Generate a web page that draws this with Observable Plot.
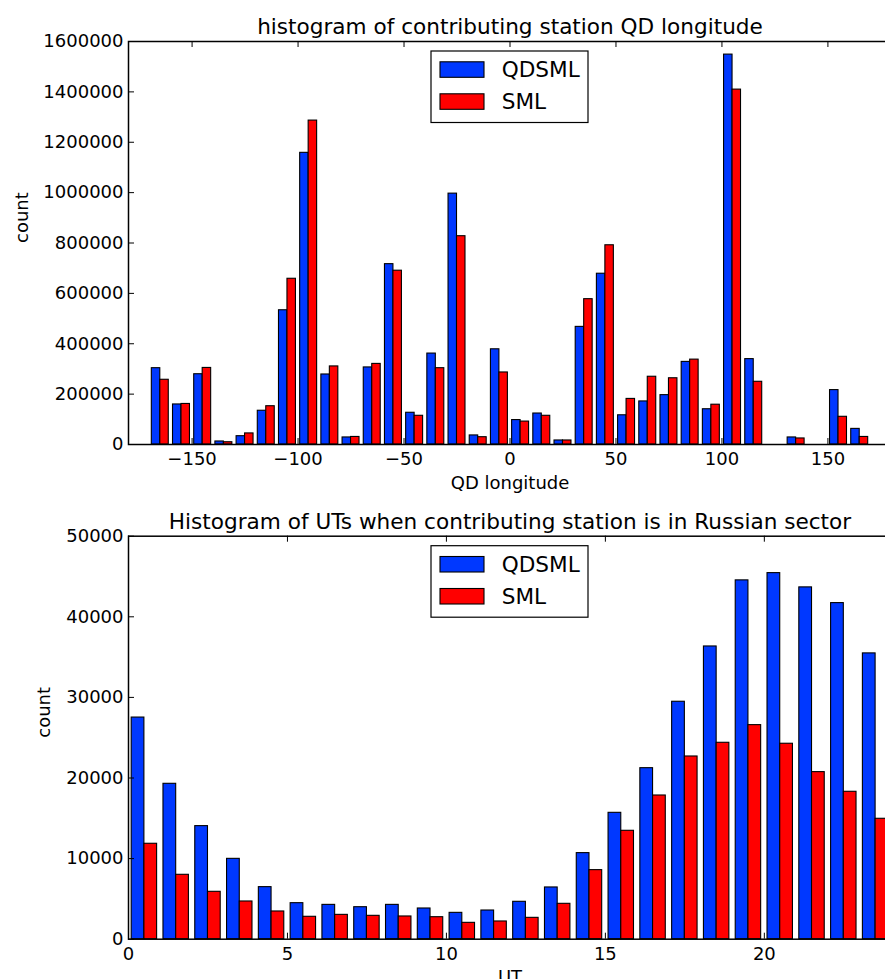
<!DOCTYPE html>
<html>
<head>
<meta charset="utf-8">
<script src="https://cdn.jsdelivr.net/npm/d3@7"></script>
<script src="https://cdn.jsdelivr.net/npm/@observablehq/plot@0.6"></script>
<style>
  html, body { margin: 0; padding: 0; background: #fff; overflow: hidden; }
  #wrap { width: 885px; height: 979px; overflow: hidden; position: relative; }
  #wrap svg { display: block; max-width: none !important; }
</style>
</head>
<body>
<div id="wrap"></div>
<script>
// ---------- data ----------
const lonBins = [-170,-160,-150,-140,-130,-120,-110,-100,-90,-80,-70,-60,-50,-40,-30,-20,-10,0,10,20,30,40,50,60,70,80,90,100,110,120,130,140,150,160];
const lonQDSML = [303000,159000,279000,12000,33000,134000,533000,1158000,278000,28000,306000,716000,126000,361000,996000,36000,378000,97000,123000,16000,467000,678000,116000,171000,196000,328000,140000,1548000,339000,0,28000,0,216000,62000];
const lonSML   = [257000,161000,304000,9000,44000,152000,658000,1286000,310000,30000,320000,690000,114000,303000,827000,29000,286000,91000,114000,16000,577000,791000,181000,269000,263000,337000,158000,1409000,249000,0,24000,0,110000,30000];
const lonTicks = [-150,-100,-50,0,50,100,150];
const lonCountTicks = [0,200000,400000,600000,800000,1000000,1200000,1400000,1600000];

const utBins = [0,1,2,3,4,5,6,7,8,9,10,11,12,13,14,15,16,17,18,19,20,21,22,23];
const utQDSML = [27500,19280,14030,9970,6460,4470,4260,3970,4260,3810,3270,3560,4640,6420,10680,15680,21220,29460,36320,44520,45420,43650,41700,35460];
const utSML   = [11840,7990,5880,4680,3440,2780,3020,2900,2820,2730,2030,2200,2650,4390,8570,13450,17830,22670,24370,26560,24250,20730,18290,14940];
const utTicks = [0,5,10,15,20];
const utCountTicks = [0,10000,20000,30000,40000,50000];

const seriesNames = ["QDSML","SML"];
const seriesColors = ["#0038ff","#ff0000"];

// ---------- drawing ----------
const W = 891, LEFT = 128;
const minus = d => d < 0 ? "\u2212" + Math.abs(d) : String(d);

function panel({bins, a, b, bw, xDomain, xTicks, yDomain, yTicks, title, xLabel, height, mt, mb, yLabelDx}) {
  const rows = bins.map((bin, i) => ({bin, a: a[i], b: b[i]}));
  const H = height - mt - mb;
  const FW = W - LEFT;
  const plot = Plot.plot({
    width: W, height,
    marginLeft: LEFT, marginRight: 0, marginTop: mt, marginBottom: mb,
    style: {fontFamily: "DejaVu Sans", fontSize: "18px", background: "white", color: "black", overflow: "visible", maxWidth: "none"},
    x: {domain: xDomain, label: null},
    y: {domain: yDomain, label: null},
    marks: [
      Plot.rect(rows, {x1: d => d.bin + 0.1*bw, x2: d => d.bin + 0.5*bw, y1: 0, y2: "a", fill: seriesColors[0], stroke: "black", strokeWidth: 1.1}),
      Plot.rect(rows, {x1: d => d.bin + 0.5*bw, x2: d => d.bin + 0.9*bw, y1: 0, y2: "b", fill: seriesColors[1], stroke: "black", strokeWidth: 1.1}),
      Plot.axisX(xTicks, {anchor: "bottom", tickSize: 0, tickPadding: 8, tickFormat: minus, fontSize: 18, label: null}),
      Plot.axisY(yTicks, {anchor: "left", tickSize: 0, tickPadding: 5, tickFormat: d3.format("d"), fontSize: 18, label: null}),
      Plot.tickX(xTicks, {x: d => d, insetTop: H - 6, stroke: "black", strokeWidth: 1}),
      Plot.tickX(xTicks, {x: d => d, insetBottom: H - 6, stroke: "black", strokeWidth: 1}),
      Plot.tickY(yTicks, {y: d => d, insetRight: FW - 6, stroke: "black", strokeWidth: 1}),
      Plot.tickY(yTicks, {y: d => d, insetLeft: FW - 6, stroke: "black", strokeWidth: 1}),
      Plot.frame({stroke: "black", strokeWidth: 1.5}),
      Plot.text([title], {text: d => d, frameAnchor: "top", dy: -7.5, lineAnchor: "bottom", fontSize: 21.6}),
      Plot.text([xLabel], {text: d => d, frameAnchor: "bottom", dy: 44, lineAnchor: "bottom", fontSize: 18}),
      Plot.text(["count"], {text: d => d, frameAnchor: "left", dx: yLabelDx, rotate: -90, lineAnchor: "middle", fontSize: 18})
    ]
  });
  // legend
  const svg = d3.select(plot);
  const g = svg.append("g").attr("transform", `translate(431,${mt + 10})`);
  g.append("rect").attr("x", 0).attr("y", 0).attr("width", 157).attr("height", 71.5)
    .attr("fill", "white").attr("stroke", "black").attr("stroke-width", 1.2);
  seriesNames.forEach((name, i) => {
    const base = 26.3 + i * 32;
    g.append("rect").attr("x", 9).attr("y", base - 15.5).attr("width", 44).attr("height", 15.5)
      .attr("fill", seriesColors[i]).attr("stroke", "black").attr("stroke-width", 1.1);
    g.append("text").attr("x", 70.7).attr("y", base).attr("font-size", 21.6)
      .attr("text-anchor", "start").attr("font-family", "DejaVu Sans").attr("fill", "black").text(name);
  });
  return plot;
}

const wrap = document.getElementById("wrap");
wrap.appendChild(panel({
  bins: lonBins, a: lonQDSML, b: lonSML, bw: 10,
  xDomain: [-180, 180], xTicks: lonTicks, yDomain: [0, 1600000], yTicks: lonCountTicks,
  title: "histogram of contributing station QD longitude", xLabel: "QD longitude",
  height: 490, mt: 41, mb: 46, yLabelDx: -106
}));
wrap.appendChild(panel({
  bins: utBins, a: utQDSML, b: utSML, bw: 1,
  xDomain: [0, 24], xTicks: utTicks, yDomain: [0, 50000], yTicks: utCountTicks,
  title: "Histogram of UTs when contributing station is in Russian sector", xLabel: "UT",
  height: 489, mt: 45.7, mb: 40.3, yLabelDx: -84
}));
</script>
</body>
</html>
